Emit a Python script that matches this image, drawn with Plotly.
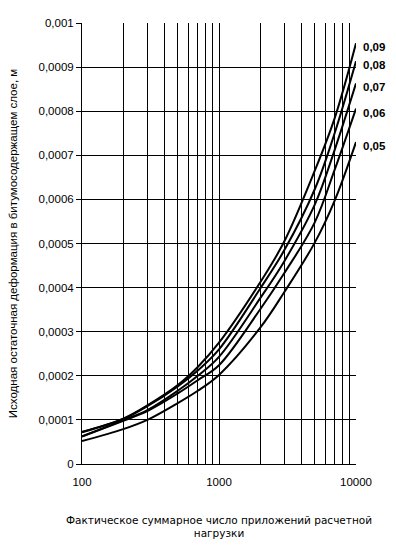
import plotly.graph_objects as go

# Data
loads = [100, 200, 300, 500, 700, 1000, 2000, 3000, 5000, 7000, 10000]
s_009 = [7.3e-5, 10.3e-5, 13.3e-5, 17.9e-5, 22.0e-5, 27.5e-5, 41.2e-5, 50.5e-5, 66.5e-5, 78.5e-5, 95.4e-5]
s_008 = [7.2e-5, 10.2e-5, 13.1e-5, 17.6e-5, 21.2e-5, 26.0e-5, 39.8e-5, 48.5e-5, 62.3e-5, 75.1e-5, 91.3e-5]
s_007 = [6.3e-5, 9.9e-5, 12.2e-5, 16.6e-5, 20.0e-5, 24.3e-5, 37.6e-5, 46.0e-5, 58.8e-5, 71.3e-5, 86.3e-5]
s_006 = [6.2e-5, 9.8e-5, 12.0e-5, 16.0e-5, 19.0e-5, 22.4e-5, 35.1e-5, 43.3e-5, 54.8e-5, 66.8e-5, 80.6e-5]
s_005 = [5.2e-5, 7.9e-5, 10.0e-5, 13.8e-5, 16.6e-5, 20.2e-5, 30.9e-5, 39.0e-5, 50.2e-5, 59.8e-5, 73.0e-5]
series_names = ["0,09", "0,08", "0,07", "0,06", "0,05"]
series_vals = [s_009, s_008, s_007, s_006, s_005]

x_tickvals = [100, 200, 300, 400, 500, 600, 700, 800, 900,
              1000, 2000, 3000, 4000, 5000, 6000, 7000, 8000, 9000, 10000]
x_ticktext = ["100", "", "", "", "", "", "", "", "",
              "1000", "", "", "", "", "", "", "", "", "10000"]
y_tickvals = [0, 0.0001, 0.0002, 0.0003, 0.0004, 0.0005, 0.0006, 0.0007, 0.0008, 0.0009, 0.001]
y_ticktext = ["0", "0,0001", "0,0002", "0,0003", "0,0004", "0,0005",
              "0,0006", "0,0007", "0,0008", "0,0009", "0,001"]

fig = go.Figure()
for name, vals in zip(series_names, series_vals):
    fig.add_trace(go.Scatter(x=loads, y=vals, mode="lines", name=name,
                             line=dict(color="black", width=2, shape="spline", smoothing=1.0),
                             showlegend=False, hoverinfo="skip"))
    fig.add_annotation(x=4.0, xref="x", y=vals[-1], yref="y",
                       text="<b>" + name + "</b>", showarrow=False,
                       xanchor="left", yanchor="middle", xshift=5, yshift=-4,
                       font=dict(family="Liberation Sans, Arial", size=11.5, color="black"))

fig.update_layout(
    width=396, height=547,
    margin=dict(l=82, r=40, t=23, b=83),
    paper_bgcolor="white", plot_bgcolor="white",
    font=dict(family="Liberation Sans, Arial", size=11, color="black"),
)
fig.update_xaxes(type="log", range=[2, 4], tickvals=x_tickvals, ticktext=x_ticktext,
                 automargin=False,
                 showgrid=True, gridcolor="black", gridwidth=1,
                 showline=True, linecolor="black", linewidth=1,
                 ticks="outside", ticklen=7, tickcolor="rgba(255,255,255,0)", zeroline=False,
                 tickfont=dict(family="Liberation Sans, Arial", size=11.5),
                 title=dict(text="Фактическое суммарное число приложений расчетной<br>нагрузки",
                            font=dict(family="DejaVu Sans", size=10.5), standoff=29))
fig.update_yaxes(range=[0, 0.001], tickvals=y_tickvals, ticktext=y_ticktext,
                 automargin=False,
                 showgrid=True, gridcolor="black", gridwidth=1,
                 showline=True, linecolor="black", linewidth=1,
                 ticks="outside", ticklen=5, tickcolor="black", zeroline=False,
                 tickfont=dict(family="Liberation Sans, Arial", size=11.5),
                 title=dict(text="Исходная остаточная деформация в битумосодержащем слое, м",
                            font=dict(family="Liberation Sans, Arial", size=11.5), standoff=18))

fig.write_html("out.html")
